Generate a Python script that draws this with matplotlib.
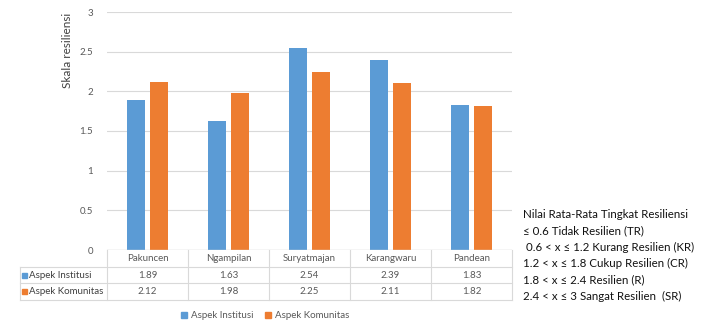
import matplotlib
matplotlib.use("Agg")
import matplotlib.pyplot as plt
from matplotlib.lines import Line2D
from matplotlib.patches import Rectangle
import numpy as np

categories = ["Pakuncen", "Ngampilan", "Suryatmajan", "Karangwaru", "Pandean"]
institusi = [1.89, 1.63, 2.54, 2.39, 1.83]
komunitas = [2.12, 1.98, 2.25, 2.11, 1.82]
series_names = ["Aspek Institusi", "Aspek Komunitas"]
yticks = [0, 0.5, 1, 1.5, 2, 2.5, 3]
ytick_labels = ["0", "0.5", "1", "1.5", "2", "2.5", "3"]
side_lines = ["Nilai Rata-Rata Tingkat Resiliensi",
              "≤ 0.6 Tidak Resilien (TR)",
              " 0.6 < x ≤ 1.2 Kurang Resilien (KR)",
              "1.2 < x ≤ 1.8 Cukup Resilien (CR)",
              "1.8 < x ≤ 2.4 Resilien (R)",
              "2.4 < x ≤ 3 Sangat Resilien  (SR)"]

plt.rcParams['font.family'] = ['Lato', 'DejaVu Sans']
BLUE = "#5B9BD5"
ORANGE = "#ED7D31"
GRID = "#D9D9D9"
TXT = "#595959"

W, H = 721, 333
fig = plt.figure(figsize=(W/100, H/100), dpi=100)
fig.patch.set_facecolor("white")

def fx(px): return px / W
def fy(py): return 1 - py / H

x0, x1, ytop, ybot = 107, 512, 12, 250
ax = fig.add_axes([fx(x0), fy(ybot), fx(x1) - fx(x0), fy(ytop) - fy(ybot)])
x = np.arange(len(categories))
bw = 0.22
gap = 0.06
ax.bar(x - (bw + gap) / 2, institusi, bw, color=BLUE, zorder=3)
ax.bar(x + (bw + gap) / 2, komunitas, bw, color=ORANGE, zorder=3)
ax.set_xlim(-0.5, len(categories) - 0.5)
ax.set_ylim(0, 3)
ax.set_yticks(yticks)
ax.set_yticklabels(ytick_labels, fontsize=7, color=TXT)
ax.tick_params(axis='y', length=0, pad=10)
ax.set_xticks([])
for s in ax.spines.values():
    s.set_visible(False)
ax.grid(axis='y', color=GRID, linewidth=0.8, zorder=0)
ax.set_axisbelow(True)
ax.axhline(0, color=GRID, linewidth=1, zorder=4)
ax.set_ylabel("Skala resiliensi", fontsize=8.5, color="#404040")
ax.yaxis.set_label_coords(-0.085, 0.84)

# data table
rows = [institusi, komunitas]
colors = [BLUE, ORANGE]
row_y = [(250, 267), (267, 283), (283, 300)]
tl = 20
for i, c in enumerate(categories):
    xc = fx(x0) + (i + 0.5) * (fx(x1) - fx(x0)) / len(categories)
    fig.text(xc, fy((row_y[0][0] + row_y[0][1]) / 2), c, ha='center', va='center',
             fontsize=7, color=TXT)
    for r, vals in enumerate(rows):
        yc = fy((row_y[r + 1][0] + row_y[r + 1][1]) / 2)
        fig.text(xc, yc, f"{vals[i]:.2f}", ha='center', va='center', fontsize=7, color=TXT)
for r, name in enumerate(series_names):
    yc = fy((row_y[r + 1][0] + row_y[r + 1][1]) / 2)
    fig.patches.append(Rectangle((fx(22), yc - 2.5 / H), 5 / W, 5 / H, color=colors[r],
                                 transform=fig.transFigure, figure=fig))
    fig.text(fx(29), yc, name, ha='left', va='center', fontsize=7, color="#404040")
lw = 0.8
for yy in [267, 283, 300]:
    fig.add_artist(Line2D([fx(tl), fx(x1)], [fy(yy), fy(yy)], color=GRID, lw=lw))
fig.add_artist(Line2D([fx(tl), fx(tl)], [fy(267), fy(300)], color=GRID, lw=lw))
for i in range(len(categories) + 1):
    xb = fx(x0) + i * (fx(x1) - fx(x0)) / len(categories)
    fig.add_artist(Line2D([xb, xb], [fy(250), fy(300)], color=GRID, lw=lw))

# bottom legend
handles = [Rectangle((0, 0), 1, 1, color=c) for c in colors]
fig.legend(handles, series_names, loc='center', bbox_to_anchor=(fx(265), fy(316)),
           ncol=2, frameon=False, fontsize=7, handlelength=0.6, handleheight=0.6,
           columnspacing=1.2, handletextpad=0.4, labelcolor=TXT)

# side annotation
for k, line in enumerate(side_lines):
    fig.text(fx(523), fy(215 + k * 16.2), line, ha='left', va='center', fontsize=8.3,
             color="#111111")

fig.savefig("out.png", dpi=100)
